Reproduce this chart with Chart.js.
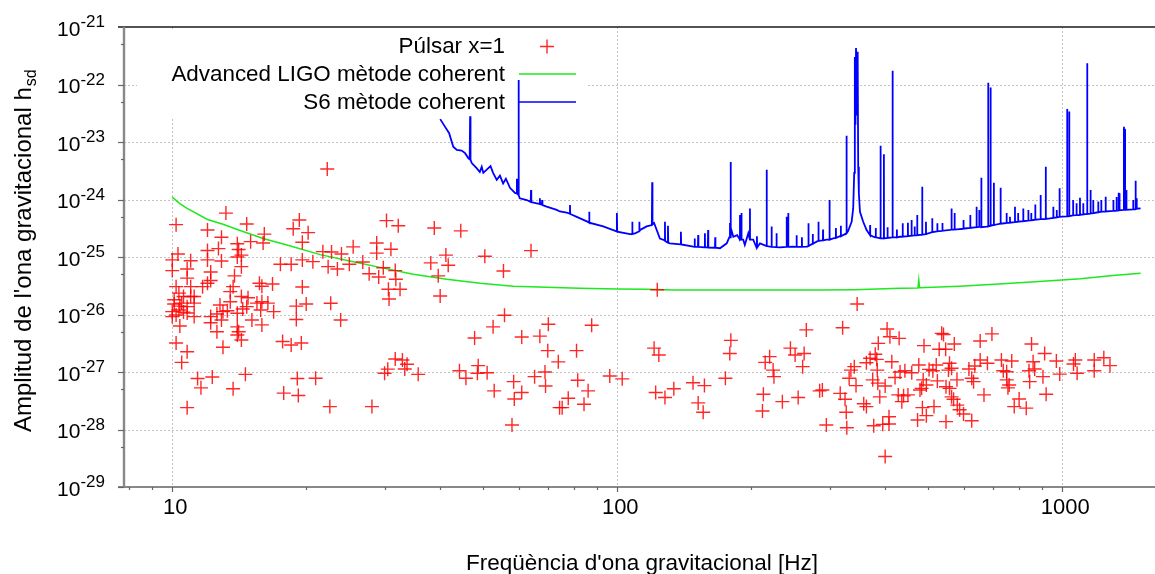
<!DOCTYPE html>
<html>
<head>
<meta charset="utf-8">
<script src="https://cdn.jsdelivr.net/npm/chart.js@4.4.1/dist/chart.umd.min.js"></script>
<style>
  html, body { margin: 0; padding: 0; background: #fff; overflow: hidden; }
  canvas { display: block; }
</style>
</head>
<body>
<canvas id="hsdChart" width="1155" height="574"></canvas>
<script>
// Dades llegides del gràfic: [freqüència (Hz), amplitud h_sd]
const pulsarPoints = [
  [22.3,3.4e-24],[13.2,5.8e-25],[10.2,3.65e-25],[14.7,3.75e-25],[12.0,2.95e-25],[19.3,4.4e-25],[18.7,3.1e-25],
  [20.2,2.65e-25],[16.1,2.5e-25],[12.9,2.2e-25],[15.0,1.85e-25],[14.0,1.7e-25],[16.0,1.75e-25],[19.6,1.8e-25],
  [12.0,1.3e-25],[12.7,1.4e-25],[10.3,1.13e-25],[14.1,1.35e-25],[14.3,1.08e-25],[10.0,8.9e-26],[11.0,8.6e-26],
  [12.0,8.9e-26],[12.9,8.5e-26],[14.0,1.0e-25],[14.3,6.8e-26],[17.5,7.5e-26],[18.5,7.5e-26],[19.6,8.9e-26],
  [20.7,8.3e-26],[21.8,1.24e-25],[22.8,1.22e-25],[24.0,1.13e-25],[25.5,1.5e-25],[25.0,7.5e-26],[22.4,6.8e-26],
  [23.5,6.2e-26],[26.8,8.2e-26],[27.7,5.1e-26],[28.8,1.75e-25],[28.8,1.17e-25],[29.1,4.5e-26],[10.0,5.8e-26],
  [10.8,6.2e-26],[12.2,5.5e-26],[12.2,3.9e-26],[12.0,3.5e-26],[13.8,4.7e-26],[10.8,4.3e-26],[10.2,3.05e-26],
  [11.0,3.05e-26],[11.7,3.05e-26],[13.7,3.05e-26],[15.7,3.5e-26],[15.9,3.1e-26],[16.8,3.4e-26],[19.6,3.0e-26],
  [13.5,2.5e-26],[10.35,2.35e-26],[10.6,2.05e-26],[11.0,2.05e-26],[11.2,2.05e-26],[10.1,1.52e-26],[10.5,1.58e-26],
  [10.8,1.37e-26],[11.2,1.58e-26],[10.0,1.12e-26],[10.35,1.2e-26],[10.0,9.2e-27],[10.8,1.06e-26],[11.2,9.2e-27],
  [10.4,6.3e-27],[12.8,1.46e-26],[12.6,1.02e-26],[13.0,1.12e-26],[12.2,9.2e-27],[12.9,8.0e-27],[12.2,7.2e-27],
  [13.5,1.67e-26],[14.3,2.05e-26],[14.8,1.96e-26],[15.5,1.58e-26],[15.9,1.67e-26],[16.4,1.58e-26],[16.9,1.12e-26],
  [15.8,1.2e-26],[14.4,1.25e-26],[14.0,1.05e-26],[13.3,1.16e-26],[14.7,1.37e-26],[15.1,8.0e-27],[15.9,6.6e-27],
  [14.0,6.1e-27],[14.1,5.0e-27],[12.6,5.0e-27],[14.0,4.4e-27],[14.3,3.6e-27],[19.0,1.4e-26],[20.0,1.52e-26],
  [19.0,8.2e-27],[22.7,1.57e-26],[23.9,8.0e-27],[10.2,3.2e-27],[10.8,2.25e-27],[10.5,1.47e-27],[13.0,2.7e-27],
  [17.7,3.4e-27],[18.5,2.95e-27],[19.5,3.2e-27],[11.4,7.7e-28],[12.3,8.2e-28],[11.6,5.3e-28],[14.6,9.1e-28],
  [13.7,5.1e-28],[19.1,7.7e-28],[21.0,7.8e-28],[17.8,4.3e-28],[19.2,3.9e-28],[10.8,2.4e-28],[22.6,2.5e-28],
  [28.1,2.5e-28],[10.1,1.8e-26],[10.4,1.4e-26],[10.6,1.1e-26],[10.2,9.8e-27],
  [30.3,4.3e-25],[32.2,3.5e-25],[38.8,3.2e-25],[44.5,2.85e-25],[31.0,1.36e-25],[41.2,1.08e-25],[41.7,7.2e-26],
  [38.1,7.9e-26],[50.4,1.03e-25],[64.0,1.29e-25],[55.5,5.7e-26],[29.8,6.5e-26],[31.7,5.8e-26],[31.8,4.1e-26],
  [39.6,4.7e-26],[30.6,2.75e-26],[32.5,2.75e-26],[30.7,1.86e-26],[40.0,2.1e-26],[123,2.7e-26],[55.8,9.7e-27],
  [52.6,6.1e-27],[70.0,6.75e-27],[87.6,6.5e-27],[47.8,3.9e-27],[61.0,4.05e-27],[67.0,4.2e-27],[69.8,2.35e-27],
  [81.0,2.35e-27],[73.7,1.5e-27],[31.7,1.68e-27],[32.9,1.62e-27],[33.7,1.36e-27],[33.3,1.13e-27],[30.5,1.12e-27],
  [30.0,9.5e-28],[35.7,9.1e-28],[44.2,1.05e-27],[45.7,7.8e-28],[48.7,1.29e-27],[48.5,9.5e-28],[51.0,9.7e-28],
  [65.2,8.3e-28],[68.8,1.0e-27],[58.5,6.8e-28],[69.0,5.7e-28],[52.9,4.7e-28],[61.0,4.4e-28],[58.7,3.4e-28],
  [81.5,7.2e-28],[86.0,4.7e-28],[77.6,3.5e-28],[75.2,2.4e-28],[74.2,2.4e-28],[84.2,2.75e-28],[96.2,8.5e-28],
  [102.6,7.6e-28],[58.0,1.2e-28],[121,2.6e-27],[124,1.98e-27],[122,4.4e-28],[128,3.6e-28],[134,5.1e-28],
  [148,6.5e-28],[157,5.8e-28],[152,2.9e-28],[156,2.0e-28],[175,7.8e-28],[180,3.55e-27],[179,2.1e-27],
  [215,1.47e-27],[220,1.85e-27],[224,1.08e-27],[225,8.3e-28],[213,4.1e-28],[212,2.1e-28],[235,3.05e-28],
  [255,3.6e-28],[245,2.6e-27],[251,1.98e-27],[263,2.1e-27],[261,1.24e-27],[266,5.4e-27],[285,4.7e-28],
  [346,1.52e-26],[321,5.9e-27],[404,5.6e-27],[410,4.1e-27],[430,3.85e-27],[386,3.15e-27],[536,4.7e-27],
  [541,4.5e-27],[695,4.6e-27],[489,2.87e-27],[572,3.07e-27],[654,3.46e-27],[853,3.07e-27],[529,2.48e-27],
  [547,2.48e-27],[380,2.03e-27],[370,1.73e-27],[383,1.66e-27],[363,1.45e-27],[414,1.51e-27],[341,1.24e-27],
  [335,1.08e-27],[384,1.08e-27],[476,1.32e-27],[521,1.32e-27],[558,1.42e-27],[654,1.62e-27],[679,1.42e-27],
  [730,1.62e-27],[770,1.55e-27],[860,1.51e-27],[913,2.1e-27],[970,1.55e-27],[1070,1.62e-27],[1180,1.62e-27],
  [1240,1.77e-27],[1280,1.29e-27],[1060,1.38e-27],[432,1.0e-27],[443,1.05e-27],[459,9.7e-28],[502,1.11e-27],
  [512,1.05e-27],[555,1.08e-27],[564,1.16e-27],[617,1.13e-27],[636,1.27e-27],[737,1.05e-27],[750,1.01e-27],
  [842,1.05e-27],[867,1.13e-27],[987,9.2e-28],[1080,9.5e-28],[1180,1.05e-27],[332,7.8e-28],[375,7.3e-28],
  [385,6.4e-28],[400,5.7e-28],[344,5.8e-28],[421,8.0e-28],[487,7.3e-28],[495,5.95e-28],[483,5.2e-28],
  [524,7.0e-28],[548,5.55e-28],[558,5.2e-28],[580,7.3e-28],[626,7.8e-28],[632,6.8e-28],[750,7.3e-28],
  [760,5.95e-28],[845,6.8e-28],[905,8.3e-28],[755,5.3e-28],[289,4.85e-28],[317,4.25e-28],[325,3.35e-28],
  [389,3.7e-28],[428,4.0e-28],[440,3.85e-28],[450,4.0e-28],[479,4.85e-28],[564,3.7e-28],[570,3.35e-28],
  [667,4.0e-28],[920,4.1e-28],[800,3.4e-28],[358,2.8e-28],[363,2.5e-28],[436,3.05e-28],[485,2.4e-28],
  [515,2.5e-28],[581,2.65e-28],[588,2.2e-28],[780,2.5e-28],[830,2.35e-28],[327,2.0e-28],[408,1.67e-28],
  [495,1.74e-28],[473,1.46e-28],[548,1.37e-28],[600,1.86e-28],[626,1.42e-28],[295,1.2e-28],[328,1.07e-28],
  [377,1.16e-28],[395,1.23e-28],[408,1.25e-28],[400,3.4e-29]
];

const aligoCurve = [
  [10.0,1.1e-24],[10.4,8.5e-25],[10.8,7.0e-25],[12.0,4.5e-25],[13.0,3.7e-25],[14.0,3.0e-25],[16.0,2.1e-25],
  [18.1,1.62e-25],[21.5,1.1e-25],[25.5,8.3e-26],[29.3,6.6e-26],[34.8,5.0e-26],[41.4,4.1e-26],[49.2,3.5e-26],
  [58.4,3.1e-26],[69.4,2.97e-26],[82.2,2.86e-26],[100,2.78e-26],[116,2.75e-26],[134,2.67e-26],[164,2.67e-26],
  [209,2.67e-26],[285,2.67e-26],[341,2.7e-26],[432,2.85e-26],[474,2.9e-26],[476,4.0e-26],[478,2.92e-26],
  [588,3.1e-26],[720,3.4e-26],[888,3.75e-26],[1100,4.2e-26],[1280,4.7e-26],[1500,5.2e-26]
];

const s6Curve = [
  [40.0,2.5e-23],[41.0,1.85e-23],[41.9,1.42e-23],[42.8,8.3e-24],[43.6,7.3e-24],[44.7,7.1e-24],[45.5,6.4e-24],
  [46.3,5.2e-24],[46.6,5.0e-24],[46.7,2.8e-23],[46.8,4.9e-24],[47.1,4.3e-24],[48.3,3.5e-24],[49.1,3.0e-24],
  [49.6,3.7e-24],[50.0,2.9e-24],[50.9,3.3e-24],[51.9,3.8e-24],[52.6,2.9e-24],[53.6,2.2e-24],[54.5,2.6e-24],
  [55.4,1.9e-24],[56.2,2.3e-24],[57.4,1.6e-24],[58.9,1.3e-24],[59.4,1.28e-24],[59.5,2.3e-24],[59.6,1.26e-24],
  [59.9,1.22e-24],[60.0,1.2e-22],[60.1,1.18e-24],[60.4,1.05e-24],[62.6,9.8e-25],[63.7,9.2e-25],[63.9,9.1e-25],
  [64.0,1.46e-24],[64.1,9.0e-25],[65.9,8.6e-25],[66.9,8.4e-25],[67.0,1.05e-24],[67.1,8.3e-25],[67.7,8.2e-25],
  [67.8,9.8e-25],[67.9,8.0e-25],[69.4,7.5e-25],[73.1,6.6e-25],[74.3,6.2e-25],[77.0,5.9e-25],[78.2,5.7e-25],
  [78.3,8.0e-25],[78.4,5.6e-25],[81.1,5.0e-25],[86.4,4.0e-25],[86.5,6.1e-25],[86.6,3.95e-25],[93.0,3.4e-25],
  [99.6,2.8e-25],[99.8,5.8e-25],[100.0,2.75e-25],[106.8,2.5e-25],[108.0,2.5e-25],[108.1,4.1e-25],[108.2,2.5e-25],
  [110.0,2.6e-25],[112.0,2.8e-25],[112.1,4.1e-25],[112.2,2.9e-25],[116.4,3.4e-25],[119.6,3.6e-25],[119.8,2.0e-24],
  [120.0,3.7e-25],[121.0,3.9e-25],[124.7,2.1e-25],[127.9,1.95e-25],[128.0,4.1e-25],[128.1,1.9e-25],[129.8,1.78e-25],
  [130.0,3.5e-25],[130.2,1.76e-25],[131.3,1.73e-25],[138.8,1.66e-25],[139.0,2.75e-25],[139.2,1.65e-25],[148.2,1.51e-25],
  [149.2,1.5e-25],[149.3,2.1e-25],[149.4,1.5e-25],[151.8,1.5e-25],[152.0,2.4e-25],[152.2,1.5e-25],[157.3,1.47e-25],
  [157.4,2.6e-25],[157.5,1.47e-25],[159.8,1.47e-25],[160.0,2.95e-25],[160.2,1.46e-25],[165.8,1.45e-25],[166.0,2.2e-25],
  [166.2,1.45e-25],[170.2,1.42e-25],[176.2,1.73e-25],[178.5,2.2e-25],[179.2,3.9e-25],[179.6,2.2e-25],[179.8,4.5e-24],
  [180.0,2.4e-25],[180.5,2.95e-25],[182.3,2.25e-25],[186.0,2.4e-25],[188.6,2.0e-25],[188.7,5.4e-25],[188.8,2.0e-25],
  [190.1,2.1e-25],[190.2,5.8e-25],[190.3,2.0e-25],[191.9,2.0e-25],[193.5,1.62e-25],[197.0,2.6e-25],[198.6,2.0e-25],
  [198.7,7.0e-25],[198.8,2.0e-25],[202.1,2.0e-25],[205.6,1.45e-25],[206.0,2.3e-25],[206.2,1.46e-25],[209.3,1.73e-25],
  [216.6,1.55e-25],[216.7,3.3e-24],[216.8,1.55e-25],[220.4,1.51e-25],[222.2,1.5e-25],[222.3,3.4e-25],[222.4,1.5e-25],
  [227.8,1.48e-25],[228.0,2.6e-25],[228.2,1.48e-25],[232.1,1.47e-25],[240.2,1.5e-25],[240.3,5.0e-25],[240.4,1.5e-25],
  [242.2,1.5e-25],[242.3,5.8e-25],[242.4,1.5e-25],[248.6,1.51e-25],[252.9,1.5e-25],[253.0,2.4e-25],[253.1,1.5e-25],
  [259.8,1.5e-25],[260.0,2.2e-25],[260.2,1.5e-25],[266.5,1.51e-25],[268.9,1.55e-25],[269.0,3.85e-25],[269.1,1.55e-25],
  [274.8,1.7e-25],[275.0,2.5e-25],[275.2,1.7e-25],[280.6,1.85e-25],[283.2,1.9e-25],[283.3,4.1e-25],[283.4,1.9e-25],
  [289.8,1.95e-25],[290.0,3.0e-25],[290.2,1.95e-25],[295.5,2.0e-25],[299.9,2.0e-25],[300.0,9.8e-25],[300.1,2.0e-25],
  [305.8,2.1e-25],[309.8,2.15e-25],[310.0,3.2e-25],[310.2,2.15e-25],[316.6,2.3e-25],[317.8,2.3e-25],[318.0,3.5e-25],
  [318.2,2.3e-25],[324.8,2.5e-25],[327.5,2.6e-25],[327.6,1.29e-23],[327.7,2.6e-25],[330.0,2.8e-25],[336.3,4.1e-25],
  [339.0,7.0e-25],[340.8,2.9e-24],[341.9,3.0e-22],[343.0,2.0e-23],[344.0,4.3e-22],[345.1,4.3e-22],[346.0,3.0e-23],
  [346.5,2.7e-22],[347.4,3.7e-22],[347.9,3.7e-24],[349.1,1.28e-24],[351.1,6.1e-25],[357.0,4.1e-25],[363.4,2.95e-25],
  [369.8,2.4e-25],[370.0,3.6e-25],[370.2,2.4e-25],[376.1,2.25e-25],[380.8,2.2e-25],[381.0,3.2e-25],[381.2,2.2e-25],
  [390.4,2.1e-25],[390.6,8.6e-24],[390.8,2.1e-25],[397.2,2.1e-25],[397.4,6.1e-24],[397.6,2.1e-25],[404.8,2.15e-25],
  [405.0,3.3e-25],[405.2,2.15e-25],[415.5,2.2e-25],[415.7,1.74e-22],[415.9,2.2e-25],[424.8,2.2e-25],[425.0,3.0e-25],
  [425.2,2.2e-25],[431.7,2.25e-25],[437.8,2.25e-25],[438.0,3.85e-25],[438.2,2.25e-25],[449.8,2.3e-25],[450.0,3.95e-25],
  [450.2,2.3e-25],[458.4,2.35e-25],[458.6,4.4e-25],[458.8,2.35e-25],[465.8,2.38e-25],[466.0,3.4e-25],[466.2,2.38e-25],
  [472.0,2.4e-25],[472.2,5.4e-25],[472.4,2.4e-25],[484.4,2.45e-25],[484.6,1.67e-24],[484.8,2.45e-25],[493.8,2.5e-25],
  [494.0,4.1e-25],[494.2,2.5e-25],[510.2,2.7e-25],[510.4,4.7e-25],[510.6,2.7e-25],[523.8,2.8e-25],[524.0,3.85e-25],
  [524.2,2.8e-25],[537.8,2.85e-25],[538.0,3.9e-25],[538.2,2.85e-25],[559.2,2.95e-25],[563.8,3.0e-25],[564.0,7.0e-25],
  [564.2,3.0e-25],[572.8,3.0e-25],[573.0,5.8e-25],[573.2,3.0e-25],[599.8,3.1e-25],[600.0,4.4e-25],[600.2,3.1e-25],
  [609.9,3.16e-25],[621.2,3.2e-25],[621.4,5.4e-25],[621.6,3.2e-25],[641.8,3.3e-25],[642.0,7.5e-25],[642.2,3.3e-25],
  [650.8,3.35e-25],[651.0,6.6e-25],[651.2,3.35e-25],[657.8,3.3e-25],[658.0,2.4e-24],[658.2,3.3e-25],[676.2,3.37e-25],
  [681.6,3.4e-25],[681.8,1.07e-22],[682.0,3.4e-25],[690.1,3.5e-25],[690.3,8.9e-23],[690.5,3.5e-25],[699.6,3.6e-25],
  [701.9,3.6e-25],[702.1,1.96e-24],[702.3,3.6e-25],[726.8,3.8e-25],[727.0,1.6e-24],[727.2,3.8e-25],[749.8,3.9e-25],
  [750.0,5.8e-25],[750.2,3.9e-25],[762.8,3.95e-25],[763.0,5.0e-25],[763.2,3.95e-25],[782.8,4.05e-25],[783.0,7.5e-25],
  [783.2,4.05e-25],[795.8,4.1e-25],[796.0,5.8e-25],[796.2,4.1e-25],[817.2,4.2e-25],[817.4,7.0e-25],[817.6,4.2e-25],
  [839.0,4.3e-25],[839.2,6.6e-25],[839.4,4.3e-25],[851.8,4.35e-25],[852.0,5.8e-25],[852.2,4.35e-25],[861.0,4.4e-25],
  [869.7,4.45e-25],[869.9,8.2e-25],[870.1,4.45e-25],[894.1,4.55e-25],[894.3,1.2e-24],[894.5,4.55e-25],[918.2,4.6e-25],
  [918.4,3.7e-24],[918.6,4.6e-25],[938.5,4.7e-25],[954.8,4.8e-25],[955.0,7.5e-25],[955.2,4.8e-25],[971.8,4.9e-25],
  [972.0,6.6e-25],[972.2,4.9e-25],[986.2,5.0e-25],[986.4,1.57e-24],[986.6,5.0e-25],[1025.7,5.1e-25],[1026,3.75e-23],
  [1026.3,5.1e-25],[1036.7,5.15e-25],[1037,3.4e-23],[1037.3,5.15e-25],[1057.7,5.3e-25],[1058,9.8e-25],[1058.3,5.3e-25],
  [1076.7,5.35e-25],[1077,8.6e-25],[1077.3,5.35e-25],[1095.7,5.4e-25],[1096,1.07e-24],[1096.3,5.4e-25],[1114.7,5.5e-25],
  [1115,8.6e-25],[1115.3,5.5e-25],[1137.6,5.6e-25],[1138,2.34e-22],[1138.4,5.6e-25],[1157.6,5.7e-25],[1158,1.46e-24],
  [1158.4,5.7e-25],[1173.6,5.8e-25],[1174,9.8e-25],[1174.4,5.8e-25],[1204.6,6.0e-25],[1205,9.2e-25],[1205.4,6.0e-25],
  [1215,6.1e-25],[1223.6,6.1e-25],[1224,9.8e-25],[1224.4,6.1e-25],[1251.6,6.2e-25],[1252,1.12e-24],[1252.4,6.2e-25],
  [1302.6,6.35e-25],[1303,9.8e-25],[1303.4,6.35e-25],[1324.6,6.4e-25],[1325,1.1e-24],[1325.4,6.4e-25],[1338.6,6.45e-25],
  [1339,1.31e-24],[1339.4,6.45e-25],[1344.6,6.5e-25],[1345,1.28e-24],[1345.4,6.5e-25],[1375.5,6.6e-25],[1376,1.85e-23],
  [1378,1.0e-24],[1380,1.7e-23],[1382,9.0e-25],[1384,1.66e-23],[1384.5,6.6e-25],[1393.6,6.6e-25],[1394,1.46e-24],
  [1394.4,6.6e-25],[1443.6,6.75e-25],[1444,9.8e-25],[1444.4,6.75e-25],[1461.6,6.8e-25],[1462,2.12e-24],[1462.4,6.8e-25],
  [1469.6,6.9e-25],[1470,1.05e-24],[1470.4,6.9e-25],[1500,7.0e-25]
];

const seriesLabels = ['Púlsar x=1', 'Advanced LIGO mètode coherent', 'S6 mètode coherent'];

// eixos
const xMajorTicks = [10, 100, 1000];
const xTickLabels = ['10', '100', '1000'];
const xMinorTicks = [8, 9, 20, 30, 40, 50, 60, 70, 80, 90, 200, 300, 400, 500, 600, 700, 800, 900];
const yMajorTicks = [1e-21, 1e-22, 1e-23, 1e-24, 1e-25, 1e-26, 1e-27, 1e-28, 1e-29];
const yTickPowers = ['-21', '-22', '-23', '-24', '-25', '-26', '-27', '-28', '-29'];
const yMinorTicks = [5e-22, 5e-23, 5e-24, 5e-25, 5e-26, 5e-27, 5e-28, 5e-29];

const xTitle = "Freqüència d'ona gravitacional [Hz]";
const yTitle = "Amplitud de l'ona gravitacional h";
const yTitleSub = 'sd';

const FONT = '"Liberation Sans", Arial, sans-serif';
const RED = 'rgba(255,0,0,0.85)';
const GREEN = '#1ee81e';
const BLUE = '#0000ff';

const toXY = arr => arr.map(p => ({ x: p[0], y: p[1] }));

function drawCross(ctx, cx, cy, r) {
  ctx.beginPath();
  ctx.moveTo(cx - r, cy); ctx.lineTo(cx + r, cy);
  ctx.moveTo(cx, cy - r); ctx.lineTo(cx, cy + r);
  ctx.stroke();
}

// graella, fons de la llegenda i llegenda (abans de les dades)
const backdrop = {
  id: 'backdrop',
  beforeDatasetsDraw(chart) {
    const { ctx, chartArea: a, scales: { x, y } } = chart;
    ctx.save();
    ctx.strokeStyle = '#c2c2c2';
    ctx.lineWidth = 1;
    ctx.setLineDash([2, 2]);
    yMajorTicks.slice(1, -1).forEach(v => {
      const py = Math.round(y.getPixelForValue(v)) + 0.5;
      ctx.beginPath(); ctx.moveTo(a.left, py); ctx.lineTo(a.right, py); ctx.stroke();
    });
    xMajorTicks.forEach(v => {
      const px = Math.round(x.getPixelForValue(v)) + 0.5;
      ctx.beginPath(); ctx.moveTo(px, a.top); ctx.lineTo(px, a.bottom); ctx.stroke();
    });
    ctx.setLineDash([]);

    // caixa de la llegenda
    ctx.fillStyle = '#fff';
    ctx.fillRect(137, 31, 449, 86);

    ctx.font = '22.4px ' + FONT;
    ctx.fillStyle = '#000';
    ctx.textAlign = 'right';
    ctx.textBaseline = 'alphabetic';
    const rows = [46.5, 74, 102];
    seriesLabels.forEach((t, i) => ctx.fillText(t, 505, rows[i] + 6.5));

    ctx.strokeStyle = RED; ctx.lineWidth = 1.4;
    drawCross(ctx, 547, rows[0], 7);
    ctx.strokeStyle = GREEN; ctx.lineWidth = 1.5;
    ctx.beginPath(); ctx.moveTo(519, rows[1]); ctx.lineTo(576, rows[1]); ctx.stroke();
    ctx.strokeStyle = BLUE; ctx.lineWidth = 1.3;
    ctx.beginPath(); ctx.moveTo(518, rows[2]); ctx.lineTo(576, rows[2]); ctx.stroke();
    ctx.restore();
  },

  // eixos, marques, etiquetes i títols
  afterDatasetsDraw(chart) {
    const { ctx, chartArea: a, scales: { x, y } } = chart;
    ctx.save();

    // vora superior
    ctx.strokeStyle = '#1a1a1a'; ctx.lineWidth = 1.6;
    ctx.beginPath(); ctx.moveTo(118, a.top); ctx.lineTo(a.right, a.top); ctx.stroke();

    // eix esquerre i inferior
    ctx.strokeStyle = '#888'; ctx.lineWidth = 2.4;
    ctx.beginPath(); ctx.moveTo(a.left, a.top); ctx.lineTo(a.left, a.bottom + 1); ctx.stroke();
    ctx.lineWidth = 2;
    ctx.beginPath(); ctx.moveTo(a.left - 6, a.bottom); ctx.lineTo(a.right, a.bottom); ctx.stroke();

    ctx.strokeStyle = '#666'; ctx.lineWidth = 1.2;
    yMajorTicks.slice(1).forEach(v => {
      const py = Math.round(y.getPixelForValue(v)) + 0.5;
      ctx.beginPath(); ctx.moveTo(a.left - 6, py); ctx.lineTo(a.left, py); ctx.stroke();
    });
    yMinorTicks.forEach(v => {
      const py = Math.round(y.getPixelForValue(v)) + 0.5;
      ctx.beginPath(); ctx.moveTo(a.left - 3, py); ctx.lineTo(a.left, py); ctx.stroke();
    });
    xMajorTicks.forEach(v => {
      const px = Math.round(x.getPixelForValue(v)) + 0.5;
      ctx.beginPath(); ctx.moveTo(px, a.bottom); ctx.lineTo(px, a.bottom + 5); ctx.stroke();
    });
    xMinorTicks.forEach(v => {
      const px = Math.round(x.getPixelForValue(v)) + 0.5;
      ctx.beginPath(); ctx.moveTo(px, a.bottom); ctx.lineTo(px, a.bottom + 3); ctx.stroke();
    });

    // etiquetes eix X
    ctx.fillStyle = '#000';
    ctx.font = '22px ' + FONT;
    ctx.textAlign = 'center';
    ctx.textBaseline = 'alphabetic';
    xMajorTicks.forEach((v, i) => ctx.fillText(xTickLabels[i], x.getPixelForValue(v) + 3, 514));

    // etiquetes eix Y: 10 amb exponent
    yMajorTicks.forEach((v, i) => {
      const py = y.getPixelForValue(v);
      ctx.font = '17px ' + FONT;
      const supW = ctx.measureText(yTickPowers[i]).width;
      ctx.textAlign = 'left';
      ctx.fillText(yTickPowers[i], 105 - supW, py);
      ctx.font = '21px ' + FONT;
      ctx.textAlign = 'right';
      ctx.fillText('10', 105 - supW, py + 8.5);
    });

    // títol eix X
    ctx.font = '22.5px ' + FONT;
    ctx.textAlign = 'center';
    ctx.fillText(xTitle, 642, 570);

    // títol eix Y (rotat) amb subíndex
    ctx.translate(31, 432);
    ctx.rotate(-Math.PI / 2);
    ctx.textAlign = 'left';
    ctx.font = '24px ' + FONT;
    ctx.fillText(yTitle, 0, 0);
    const w = ctx.measureText(yTitle).width;
    ctx.font = '16px ' + FONT;
    ctx.fillText(yTitleSub, w + 1, 5);
    ctx.restore();
  }
};

const ctx = document.getElementById('hsdChart').getContext('2d');
const hsdChart = new Chart(ctx, {
  type: 'scatter',
  data: {
    datasets: [
      {
        label: seriesLabels[0],
        data: toXY(pulsarPoints),
        showLine: false,
        pointStyle: 'cross',
        pointRadius: 7,
        pointHoverRadius: 7,
        pointBorderColor: RED,
        pointBackgroundColor: RED,
        pointBorderWidth: 1.4,
        borderColor: RED
      },
      {
        label: seriesLabels[1],
        data: toXY(aligoCurve),
        showLine: true,
        pointRadius: 0,
        borderColor: GREEN,
        borderWidth: 1.5,
        tension: 0
      },
      {
        label: seriesLabels[2],
        data: toXY(s6Curve),
        showLine: true,
        pointRadius: 0,
        borderColor: BLUE,
        borderWidth: 1.8,
        tension: 0
      }
    ]
  },
  options: {
    responsive: false,
    animation: false,
    devicePixelRatio: 1,
    events: [],
    layout: { autoPadding: false, padding: { left: 124, right: 0, top: 27, bottom: 87 } },
    plugins: {
      legend: { display: false },
      tooltip: { enabled: false }
    },
    scales: {
      x: { type: 'logarithmic', min: 7.79, max: 1616, display: false },
      y: { type: 'logarithmic', min: 1e-29, max: 1e-21, display: false }
    }
  },
  plugins: [backdrop]
});
</script>
</body>
</html>
